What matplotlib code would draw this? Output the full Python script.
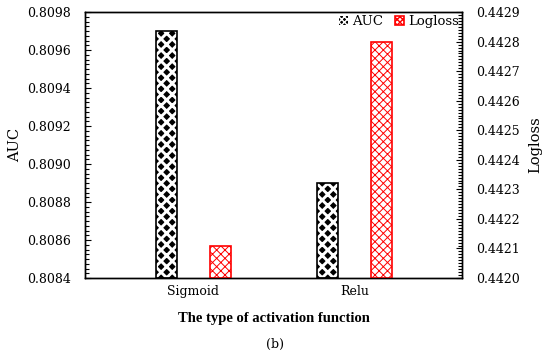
import matplotlib
matplotlib.use("Agg")
import matplotlib.pyplot as plt
from matplotlib.ticker import MultipleLocator, FormatStrFormatter
from matplotlib.patches import Patch
import numpy as np

categories = ["Sigmoid", "Relu"]
auc = [0.8097, 0.8089]
logloss = [0.44211, 0.4428]

plt.rcParams['font.family'] = ['DejaVu Serif']
plt.rcParams['font.size'] = 9

fig = plt.figure(figsize=(5.5, 3.57), dpi=100)
ax = fig.add_axes([0.1545, 0.2213, 0.6855, 0.7447])
ax2 = ax.twinx()

x = np.arange(len(categories))
off = 0.167
w = 0.13

def make_bar(axis, xs, vals, base, **kw):
    return axis.bar(xs, np.array(vals) - base, w, bottom=base, **kw)

with plt.rc_context({'hatch.linewidth': 2.1}):
    make_bar(ax, x - off, auc, 0.8084, color='black', edgecolor='white',
             hatch='xxx', linewidth=0)
make_bar(ax, x - off, auc, 0.8084, facecolor='none', edgecolor='black', linewidth=1.2)

with plt.rc_context({'hatch.linewidth': 0.7}):
    make_bar(ax2, x + off, logloss, 0.4420, color='white', edgecolor='#ff0000',
             hatch='xxxx', linewidth=1.2)

ax.set_xlim(-0.674, 1.668)
ax.set_ylim(0.8084, 0.8098)
ax2.set_ylim(0.4420, 0.4429)

ax.set_xticks(x)
ax.set_xticklabels(categories, fontsize=9)
ax.tick_params(axis='x', length=0, pad=5)

ax.yaxis.set_major_locator(MultipleLocator(0.0002))
ax.yaxis.set_minor_locator(MultipleLocator(0.000025))
ax.yaxis.set_major_formatter(FormatStrFormatter('%.4f'))
ax.tick_params(axis='y', which='major', direction='in', length=4, width=0.8, labelsize=9, pad=10)
ax.tick_params(axis='y', which='minor', direction='in', length=3, width=0.8)

ax2.yaxis.set_major_locator(MultipleLocator(0.0001))
ax2.yaxis.set_minor_locator(MultipleLocator(0.00001))
ax2.yaxis.set_major_formatter(FormatStrFormatter('%.4f'))
ax2.tick_params(axis='y', which='major', direction='in', length=4, width=0.8, labelsize=9, pad=10)
ax2.tick_params(axis='y', which='minor', direction='in', length=3, width=0.8)

for a in (ax, ax2):
    for s in a.spines.values():
        s.set_linewidth(1.0)
        s.set_color('black')

ax.set_ylabel('AUC', fontsize=10.5, labelpad=4)
ax2.set_ylabel('Logloss', fontsize=10.5, labelpad=6)
ax.set_xlabel('The type of activation function', fontsize=10.5, fontweight='bold',
              family=['Liberation Serif', 'DejaVu Serif'], labelpad=10)

fig.text(0.5, 0.034, '(b)', ha='center', va='center', fontsize=9)

with plt.rc_context({'hatch.linewidth': 1.2}):
    h1 = Patch(facecolor='black', edgecolor='white', hatch='xxxxxx', linewidth=0)
with plt.rc_context({'hatch.linewidth': 0.7}):
    h2 = Patch(facecolor='white', edgecolor='#ff0000', hatch='xxxxxx', linewidth=1.2)
ax2.legend([h1, h2], ['AUC', 'Logloss'], loc='upper right', frameon=False,
           fontsize=9.5, handlelength=0.7, handleheight=0.7, handletextpad=0.3,
           columnspacing=0.9, ncol=2, borderaxespad=0.15, borderpad=0.1)

fig.savefig('out.png', dpi=100)
